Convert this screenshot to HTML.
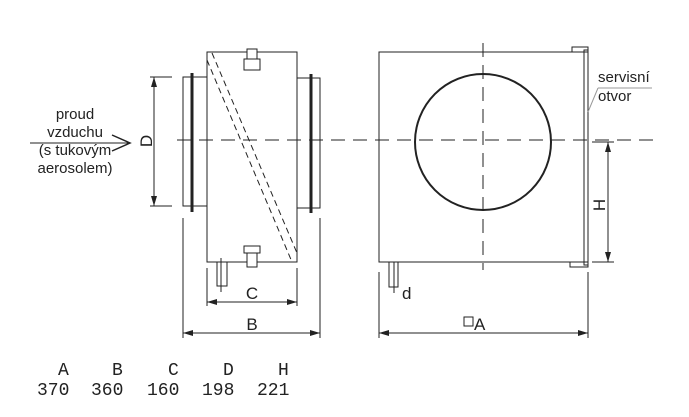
<!DOCTYPE html>
<html><head><style>
body{margin:0;background:#fff}
svg{display:block}
text{font-family:"Liberation Sans",sans-serif;fill:#222}
text.m{font-family:"Liberation Mono",monospace;font-size:18px}
</style></head><body>
<svg width="689" height="417" viewBox="0 0 689 417" xmlns="http://www.w3.org/2000/svg">
<defs>
<marker id="a" markerWidth="10" markerHeight="8" refX="10" refY="4" orient="auto-start-reverse" markerUnits="userSpaceOnUse"><path d="M0,1 L10,4 L0,7 Z" fill="#222"/></marker>
</defs>
<g stroke="#222" stroke-width="1" fill="none">
<rect x="207" y="52" width="90" height="210"/>
<rect x="183" y="77" width="24" height="129"/>
<rect x="297" y="78" width="23" height="130"/>
<line x1="192" y1="73" x2="192" y2="212" stroke-width="3"/>
<line x1="311" y1="74" x2="311" y2="213" stroke-width="3"/>
<line x1="207" y1="60" x2="292" y2="262" stroke-dasharray="6,4"/>
<line x1="212" y1="53" x2="297" y2="253" stroke-dasharray="6,4"/>
<rect x="247" y="49" width="10" height="10" fill="#fff"/>
<rect x="244" y="59" width="16" height="11" fill="#fff"/>
<rect x="244" y="246" width="16" height="7" fill="#fff"/>
<rect x="247" y="253" width="10" height="14" fill="#fff"/>
<rect x="217" y="262" width="10" height="24"/>
<line x1="221" y1="258" x2="221" y2="292"/>
<line x1="177" y1="140" x2="660" y2="140" stroke-dasharray="14,8"/>
<line x1="150" y1="77" x2="172" y2="77"/>
<line x1="150" y1="206" x2="172" y2="206"/>
<line x1="154" y1="77" x2="154" y2="206" marker-start="url(#a)" marker-end="url(#a)"/>
<line x1="207" y1="268" x2="207" y2="306"/>
<line x1="297" y1="268" x2="297" y2="306"/>
<line x1="207" y1="302" x2="297" y2="302" marker-start="url(#a)" marker-end="url(#a)"/>
<line x1="183" y1="218" x2="183" y2="338"/>
<line x1="320" y1="218" x2="320" y2="338"/>
<line x1="183" y1="333" x2="320" y2="333" marker-start="url(#a)" marker-end="url(#a)"/>
<line x1="30" y1="143" x2="130" y2="143"/>
<path d="M112,135 L130,143 L112,151" stroke-width="1.5"/>
<rect x="379" y="52" width="205" height="210"/>
<circle cx="483" cy="142" r="68" stroke-width="2"/>
<line x1="483" y1="43" x2="483" y2="270" stroke-dasharray="14,8"/>
<rect x="584" y="50" width="4" height="215"/>
<rect x="572" y="47" width="16" height="5"/>
<rect x="570" y="262" width="18" height="5"/>
<line x1="598" y1="88" x2="652" y2="88" stroke="#999"/>
<line x1="598" y1="88" x2="588" y2="112" stroke="#999"/>
<line x1="592" y1="142" x2="614" y2="142"/>
<line x1="592" y1="262" x2="614" y2="262"/>
<line x1="608" y1="142" x2="608" y2="262" marker-start="url(#a)" marker-end="url(#a)"/>
<rect x="389" y="262" width="9" height="25"/>
<line x1="394" y1="262" x2="394" y2="293"/>
<line x1="379" y1="272" x2="379" y2="338"/>
<line x1="588" y1="272" x2="588" y2="338"/>
<line x1="379" y1="333" x2="588" y2="333" marker-start="url(#a)" marker-end="url(#a)"/>
<rect x="464" y="317" width="9" height="9"/>
</g>
<g font-size="15" text-anchor="middle">
<text x="75" y="119">proud</text>
<text x="75" y="137">vzduchu</text>
<text x="75" y="155">(s tukovým</text>
<text x="75" y="173">aerosolem)</text>
</g>
<text font-size="17" transform="translate(152,141) rotate(-90)" text-anchor="middle">D</text>
<text x="252" y="299" font-size="17" text-anchor="middle">C</text>
<text x="252" y="330" font-size="17" text-anchor="middle">B</text>
<text x="474" y="330" font-size="17">A</text>
<text x="402" y="299" font-size="17">d</text>
<text font-size="17" transform="translate(605,205) rotate(-90)" text-anchor="middle">H</text>
<text x="598" y="82" font-size="15">servisní</text>
<text x="598" y="101" font-size="15">otvor</text>
<text class="m" x="58" y="375">A</text><text class="m" x="112" y="375">B</text><text class="m" x="168" y="375">C</text><text class="m" x="223" y="375">D</text><text class="m" x="278" y="375">H</text>
<text class="m" x="37" y="395">370</text><text class="m" x="91" y="395">360</text><text class="m" x="147" y="395">160</text><text class="m" x="202" y="395">198</text><text class="m" x="257" y="395">221</text>
</svg>
</body></html>
